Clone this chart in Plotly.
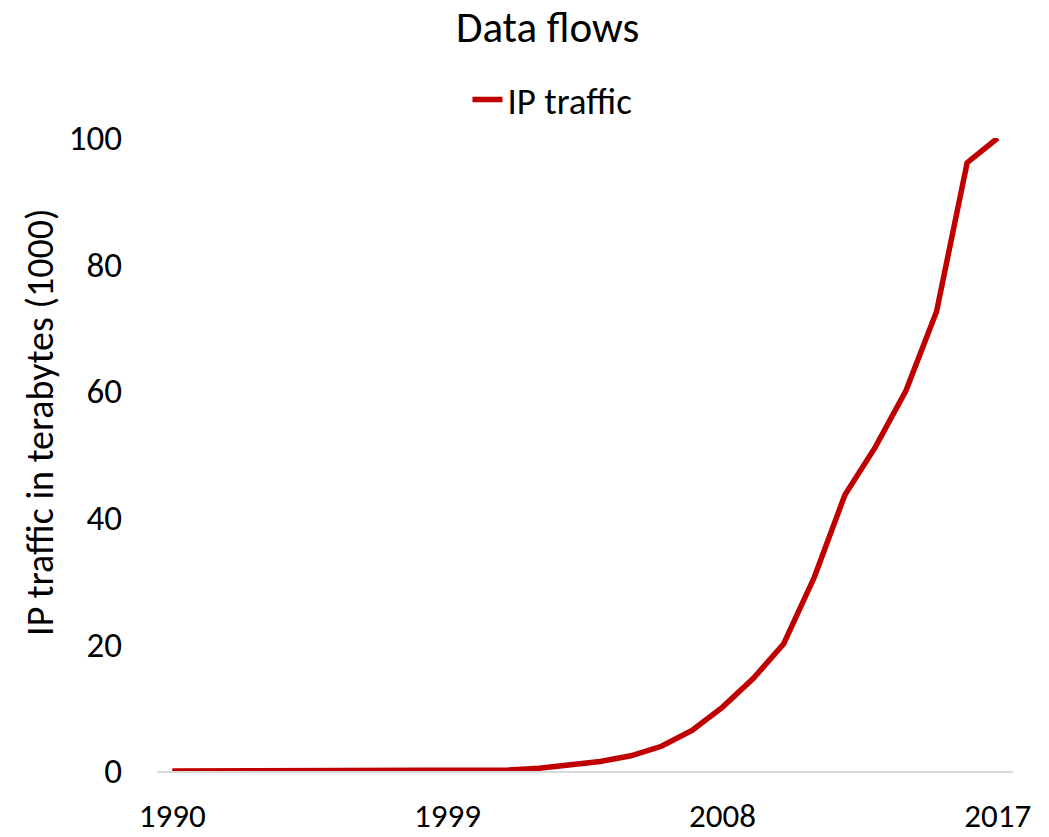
import plotly.graph_objects as go

# Annual IP traffic, terabytes (thousands)
years = [str(y) for y in range(1990, 2018)]
ip_traffic = [
    0.001, 0.001, 0.002, 0.004, 0.008, 0.015, 0.025, 0.04, 0.06, 0.08,
    0.1, 0.15, 0.45, 0.9, 1.5, 2.4, 3.9, 6.4, 10.1, 14.6,
    20.1, 30.6, 43.6, 51.2, 60.1, 72.6, 96.1, 100.0,
]
x_tick_labels = ["1990", "1999", "2008", "2017"]
y_tick_values = [0, 20, 40, 60, 80, 100]
y_title = "IP traffic in terabytes (1000)"

FONT = "Carlito, Calibri, Lato, sans-serif"

fig = go.Figure()
fig.add_trace(go.Scatter(
    x=years,
    y=ip_traffic,
    mode="lines",
    name="IP traffic",
    line=dict(color="#C00000", width=5.5),
))

# Rotated y-axis title, placed a little above the plot's vertical centre
fig.add_annotation(
    text=y_title,
    textangle=-90,
    xref="paper", yref="paper",
    x=-0.137, y=0.551,
    xanchor="center", yanchor="middle",
    showarrow=False,
    font=dict(family=FONT, size=38, color="black"),
)

fig.update_layout(
    width=1049,
    height=837,
    paper_bgcolor="white",
    plot_bgcolor="white",
    margin=dict(l=157, r=36, t=138, b=66),
    font=dict(family=FONT, size=35, color="black"),
    title=dict(
        text="Data flows",
        x=0.522, xanchor="center",
        y=0.968, yanchor="middle",
        font=dict(family=FONT, size=43, color="black"),
    ),
    showlegend=True,
    legend=dict(
        orientation="h",
        x=0.462, xanchor="center",
        y=1.06, yanchor="middle",
        font=dict(family=FONT, size=37, color="black"),
    ),
    xaxis=dict(
        type="category",
        range=[-0.5, len(years) - 0.5],
        tickmode="array",
        tickvals=x_tick_labels,
        ticktext=x_tick_labels,
        showgrid=False,
        showline=True,
        linecolor="#d9d9d9",
        linewidth=2,
        ticks="",
        ticklabelstandoff=14,
        automargin=False,
        tickfont=dict(family=FONT, size=33),
    ),
    yaxis=dict(
        range=[0, 100],
        tickmode="array",
        tickvals=y_tick_values,
        showgrid=False,
        zeroline=False,
        showline=False,
        ticks="",
        ticklabelstandoff=34,
        automargin=False,
        tickfont=dict(family=FONT, size=35),
    ),
)

fig.write_html("out.html")
